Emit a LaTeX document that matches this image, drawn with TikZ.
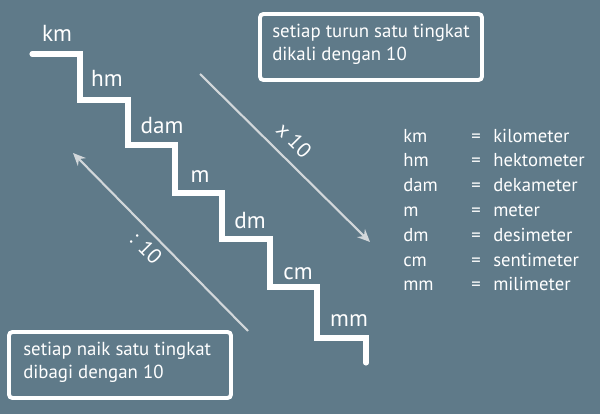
\documentclass[tikz,border=0pt]{standalone}
\usepackage{fontspec}
\setmainfont{PT Sans}
\usetikzlibrary{arrows.meta}
\definecolor{bg}{HTML}{5F7A89}
\definecolor{arr}{HTML}{D2D7DA}
\begin{document}
\begin{tikzpicture}[x=0.025cm,y=-0.025cm,
  stairlbl/.style={text=white,font=\fontsize{16.5}{18}\selectfont,anchor=base,inner sep=0pt},
  legtxt/.style={text=white,font=\fontsize{13.3}{15}\selectfont,anchor=base west,inner sep=0pt},
  boxframe/.style={draw=white,line width=2.8pt,rounded corners=2.5pt},
  boxtxt/.style={text=white,font=\fontsize{13.4}{16.5}\selectfont,align=left,anchor=north west,inner sep=0pt},
  convarrow/.style={draw=arr,line width=1.5pt,-{Stealth[length=9pt,width=8pt,inset=3pt]}},
  arrlbl/.style={text=white,font=\fontsize{15}{17}\selectfont,rotate=-45,inner sep=0pt}]
\fill[bg] (0,0) rectangle (600,414);
\useasboundingbox (0,0) rectangle (600,414);
% staircase
\draw[white,line width=3.6pt,line cap=round,line join=miter]
  (32,54) -- (80,54) -- (80,100) -- (128,100) -- (128,145) -- (175,145) -- (175,193)
  -- (222,193) -- (222,239) -- (270,239) -- (270,287) -- (317,287) -- (317,338)
  -- (366,338) -- (366,363);
\node[stairlbl] (km) at (57,42) {km};
\node[stairlbl] (hm) at (107,87) {hm};
\node[stairlbl] (dam) at (162,133) {dam};
\node[stairlbl] (m) at (200,182) {m};
\node[stairlbl] (dm) at (250,228) {dm};
\node[stairlbl] (cm) at (298,279) {cm};
\node[stairlbl] (mm) at (349,326) {mm};
% arrows
\coordinate (d1) at (200,74);
\coordinate (d2) at (370,242);
\coordinate (u1) at (248,331);
\coordinate (u2) at (73,153);
\draw[convarrow] (d1) -- (d2);
\draw[convarrow] (u1) -- (u2);
\node[arrlbl] (times) at (294,140) {x 10};
\node[arrlbl] (divide) at (146,248) {: 10};
% boxes
\draw[boxframe] (260,14) rectangle (482,80);
\node[boxtxt] (toptxt) at (272,24) {setiap turun satu tingkat\\dikali dengan 10};
\draw[boxframe] (9,332) rectangle (231,398);
\node[boxtxt] (bottxt) at (23,342) {setiap naik satu tingkat\\dibagi dengan 10};
% legend
\foreach \a/\w [count=\i from 0] in {km/kilometer,hm/hektometer,dam/dekameter,m/meter,dm/desimeter,cm/sentimeter,mm/milimeter}{
  \node[legtxt] (ab\i) at (403,142+24.8*\i) {\a};
  \node[legtxt] (eq\i) at (471,142+24.8*\i) {=};
  \node[legtxt] (wd\i) at (493,142+24.8*\i) {\w};
}
\end{tikzpicture}
\end{document}
